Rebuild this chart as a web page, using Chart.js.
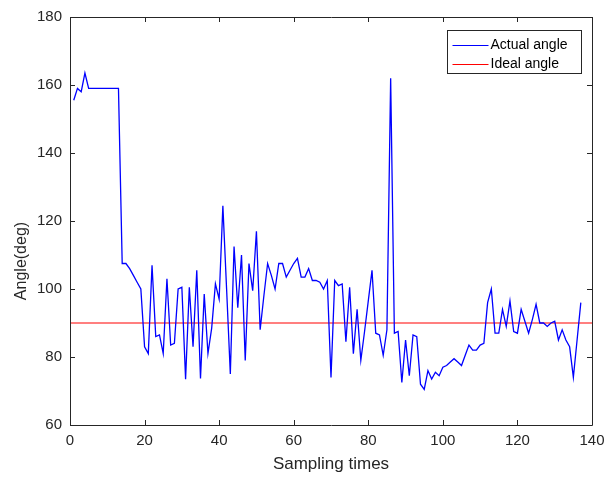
<!DOCTYPE html>
<html><head><meta charset="utf-8">
<script src="https://cdn.jsdelivr.net/npm/chart.js@4/dist/chart.umd.min.js"></script>
<style>html,body{margin:0;padding:0;background:#fff}#wrap{width:613px;height:477px;position:relative}</style>
</head><body><div id="wrap"><canvas id="c"></canvas></div>
<script>
const samplingTimes = [1,2,3,4,5,6,7,8,9,10,11,12,13,14,15,16,17,18,19,20,21,22,23,24,25,26,27,28,29,30,31,32,33,34,35,36,37,38,39,40,41,42,43,44,45,46,47,48,49,50,51,52,53,54,55,56,57,58,59,60,61,62,63,64,65,66,67,68,69,70,71,72,73,74,75,76,77,78,79,80,81,82,83,84,85,86,87,88,89,90,91,92,93,94,95,96,97,98,99,100,101,102,103,104,105,106,107,108,109,110,111,112,113,114,115,116,117,118,119,120,121,122,123,124,125,126,127,128,129,130,131,132,133,134,135,136,137];
const actualAngle = [155.5,159,158,163.5,159,159,159,159,159,159,
159,159,159,107.5,107.5,106,104,102,100,83,
81,107,86,86.5,81,103,83.5,84,100,100.5,
73.5,100.5,83,105.5,73.7,98.5,81,88.5,101.5,97,
124.5,100,75,112.5,94.5,110,79,107.5,99.5,117,
88,98,107.5,104,100,107.5,107.5,103.5,105.5,107.5,
109,103.5,103.5,106,102.5,102.5,102,100,102.5,74,
102.5,101,101.5,84.5,100.5,81,94,79,87.5,96.5,
105.5,87,86.5,80.5,88,162,87,87.5,72.5,85,
74.5,86.5,86,72,70.5,76,73.5,75.5,74.5,77,
77.5,78.5,79.5,78.5,77.5,80.5,83.5,82,82,83.5,
84,96,100,87,87,94,89,96.5,87.5,87,
94,90.5,87,91,95.5,90,90,89,90,90.5,
85,88,85,83,74,85,96];
const idealAngle = 90;
const xRange = [0, 140];
const yRange = [60, 180];
const xTicks = [0,20,40,60,80,100,120,140];
const yTicks = [60,80,100,120,140,160,180];
const seriesNames = ['Actual angle', 'Ideal angle'];
const seriesColors = ['#0000ff', '#ff0000'];
const xTitle = 'Sampling times';
const yTitle = 'Angle(deg)';
const axisColor = '#262626';
const fontFam = '"Liberation Sans", Arial, Helvetica, sans-serif';

const actualPoints = samplingTimes.map((t, i) => ({x: t, y: actualAngle[i]}));
const idealPoints = [{x: xRange[0], y: idealAngle}, {x: xRange[1], y: idealAngle}];

const boxTicks = {
  id: 'boxTicks',
  afterDatasetsDraw(chart) {
    const {ctx, chartArea: a, scales} = chart;
    ctx.save();
    ctx.strokeStyle = axisColor;
    ctx.lineWidth = 1;
    ctx.beginPath();
    ctx.rect(Math.round(a.left) + 0.5, Math.round(a.top) + 0.5, Math.round(a.right - a.left), Math.round(a.bottom - a.top));
    ctx.stroke();
    const L = 5;
    ctx.beginPath();
    xTicks.forEach(v => {
      const px = Math.round(scales.x.getPixelForValue(v)) + 0.5;
      ctx.moveTo(px, a.bottom); ctx.lineTo(px, a.bottom - L);
      ctx.moveTo(px, a.top); ctx.lineTo(px, a.top + L);
    });
    yTicks.forEach(v => {
      const py = Math.round(scales.y.getPixelForValue(v)) + 0.5;
      ctx.moveTo(a.left, py); ctx.lineTo(a.left + L, py);
      ctx.moveTo(a.right, py); ctx.lineTo(a.right - L, py);
    });
    ctx.stroke();
    // y-axis title
    ctx.save();
    ctx.fillStyle = axisColor;
    ctx.font = '16px ' + fontFam;
    ctx.textAlign = 'center';
    ctx.textBaseline = 'middle';
    ctx.translate(22, (a.top + a.bottom) / 2 + 40);
    ctx.rotate(-Math.PI / 2);
    ctx.fillText(yTitle, 0, 0);
    ctx.restore();
    // legend
    const bx = Math.round(a.right - 145) + 0.5, by = Math.round(a.top + 13) + 0.5, bw = 134, bh = 43;
    ctx.fillStyle = '#fff';
    ctx.fillRect(bx, by, bw, bh);
    ctx.strokeStyle = axisColor;
    ctx.lineWidth = 1;
    ctx.strokeRect(bx, by, bw, bh);
    ctx.font = '14px ' + fontFam;
    ctx.textBaseline = 'middle';
    ctx.textAlign = 'left';
    for (let i = 0; i < seriesNames.length; i++) {
      const cy = Math.round(by + 14 + i * 19) + 0.5;
      ctx.beginPath();
      ctx.strokeStyle = seriesColors[i];
      ctx.lineWidth = 1.2;
      ctx.moveTo(bx + 5, cy); ctx.lineTo(bx + 41, cy);
      ctx.stroke();
      ctx.fillStyle = '#000';
      ctx.fillText(seriesNames[i], bx + 43, cy);
    }
    ctx.restore();
  }
};

new Chart(document.getElementById('c'), {
  type: 'scatter',
  data: {
    datasets: [
      {label: seriesNames[0], data: actualPoints, showLine: true, borderColor: seriesColors[0], borderWidth: 1.3, pointRadius: 0, tension: 0},
      {label: seriesNames[1], data: idealPoints, showLine: true, borderColor: seriesColors[1], borderWidth: 1.2, pointRadius: 0, tension: 0}
    ]
  },
  options: {
    responsive: true,
    maintainAspectRatio: false,
    animation: false,
    layout: {padding: {top: 15, right: 21, left: 0, bottom: 0}},
    plugins: {legend: {display: false}, tooltip: {enabled: false}},
    scales: {
      x: {
        type: 'linear', min: xRange[0], max: xRange[1],
        afterBuildTicks: s => { s.ticks = xTicks.map(v => ({value: v})); },
        afterFit: s => { s.height = 52; },
        grid: {display: false, drawTicks: false},
        border: {display: false},
        ticks: {color: axisColor, font: {size: 15, family: fontFam}, padding: 7, maxRotation: 0},
        title: {display: true, text: xTitle, color: axisColor, font: {size: 17, family: fontFam}, padding: {top: 0, bottom: 2}}
      },
      y: {
        type: 'linear', min: yRange[0], max: yRange[1],
        afterBuildTicks: s => { s.ticks = yTicks.map(v => ({value: v})); },
        afterFit: s => { s.width = 70; },
        grid: {display: false, drawTicks: false},
        border: {display: false},
        ticks: {color: axisColor, font: {size: 15, family: fontFam}, padding: 8},
        title: {display: false}
      }
    }
  },
  plugins: [boxTicks]
});
</script></body></html>
